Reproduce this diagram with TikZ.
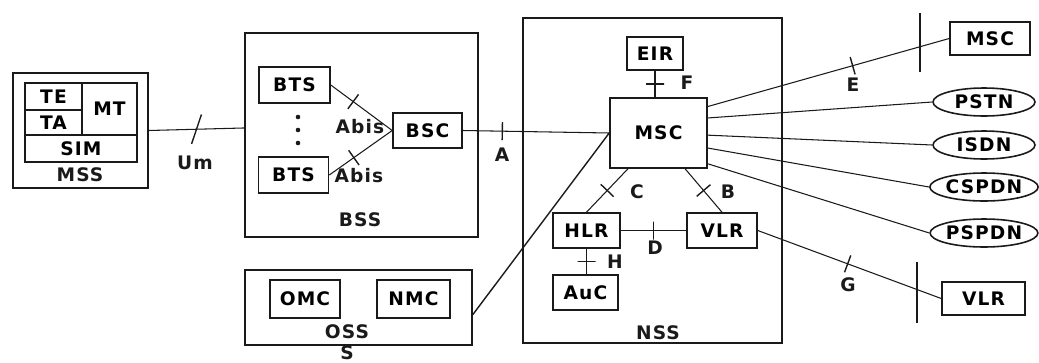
\documentclass[tikz,border=0pt]{standalone}
\usepackage{fontspec}
\setmainfont{DejaVu Sans}[LetterSpace=6]
\usepackage{tikz}
\usetikzlibrary{positioning,shapes.geometric,calc}
\definecolor{ink}{HTML}{1A1A1A}
\newcommand{\gsmfont}{\fontsize{10.6}{12}\selectfont\bfseries}
\tikzset{
  blk/.style={draw=ink,line width=0.9pt,inner sep=0pt,font=\gsmfont},
  grp/.style={draw=ink,line width=1pt,inner sep=0pt},
  net/.style={ellipse,draw=ink,line width=0.9pt,inner sep=0pt,
              minimum width=2.04cm,minimum height=0.56cm,font=\gsmfont},
  lbl/.style={inner sep=1pt,font=\gsmfont,text=ink},
  link/.style={draw=ink,line width=0.6pt},
  tick/.style={draw=ink,sloped,shape=rectangle,inner sep=0pt,
               minimum width=0pt,minimum height=0.36cm,line width=0.8pt},
  bar/.style={draw=ink,line width=1pt}
}

\begin{document}
\begin{tikzpicture}[x=1cm,y=1cm]
    \path[use as bounding box] (0,0) rectangle (20.78,-7.24);
    % mobile station
    \node[grp,minimum width=2.70cm,minimum height=2.30cm] (mss) at (1.61,-2.61) {};
    \node[blk,minimum width=1.14cm,minimum height=0.54cm] (te) at (1.07,-1.93) {TE};
    \node[blk,minimum width=1.14cm,minimum height=0.50cm] (ta) at (1.07,-2.45) {TA};
    \node[blk,minimum width=1.10cm,minimum height=1.04cm] (mt) at (2.19,-2.18) {MT};
    \node[blk,minimum width=2.24cm,minimum height=0.54cm] (sim) at (1.62,-2.97) {SIM};
    \node[lbl] (mssLbl) at (1.60,-3.50) {MSS};
    % base station subsystem
    \node[grp,minimum width=4.66cm,minimum height=4.08cm] (bss) at (7.23,-2.70) {};
    \node[blk,minimum width=1.42cm,minimum height=0.72cm] (btsA) at (5.89,-1.70) {BTS};
    \node[blk,minimum width=1.40cm,minimum height=0.72cm] (btsB) at (5.87,-3.50) {BTS};
    \node[blk,minimum width=1.38cm,minimum height=0.70cm] (bsc) at (8.55,-2.61) {BSC};
    \foreach \yy in {2.34,2.60,2.86}
      \fill[ink] (5.96,-\yy) circle (1.3pt);
    \node[lbl] (abisA) at (7.20,-2.54) {Abis};
    \node[lbl] (abisB) at (7.18,-3.52) {Abis};
    \node[lbl] (bssLbl) at (7.20,-4.40) {BSS};
    % operation subsystem
    \node[grp,minimum width=4.54cm,minimum height=1.50cm] (oss) at (7.17,-6.15) {};
    \node[blk,minimum width=1.40cm,minimum height=0.76cm] (omc) at (6.10,-5.98) {OMC};
    \node[blk,minimum width=1.46cm,minimum height=0.76cm] (nmc) at (8.27,-5.98) {NMC};
    \node[lbl] (ossLbl) at (6.94,-6.64) {OSS};
    \node[lbl] (ossS) at (6.94,-7.06) {S};
    % network subsystem
    \node[grp,minimum width=5.18cm,minimum height=6.50cm] (nss) at (13.05,-3.61) {};
    \node[blk,minimum width=1.12cm,minimum height=0.66cm] (eir) at (13.10,-1.07) {EIR};
    \node[blk,minimum width=1.94cm,minimum height=1.40cm] (msc) at (13.17,-2.66) {MSC};
    \node[blk,minimum width=1.34cm,minimum height=0.70cm] (hlr) at (11.73,-4.61) {HLR};
    \node[blk,minimum width=1.40cm,minimum height=0.70cm] (vlr) at (14.44,-4.61) {VLR};
    \node[blk,minimum width=1.30cm,minimum height=0.70cm] (auc) at (11.71,-5.85) {AuC};
    \node[lbl] (nssLbl) at (13.16,-6.66) {NSS};
    % remote side
    \node[blk,minimum width=1.60cm,minimum height=0.66cm] (mscR) at (19.80,-0.77) {MSC};
    \node[blk,minimum width=1.66cm,minimum height=0.66cm] (vlrR) at (19.67,-5.97) {VLR};
    \coordinate (eTop) at (18.40,-0.26);
    \coordinate (eBot) at (18.40,-1.44);
    \coordinate (gTop) at (18.34,-5.24);
    \coordinate (gBot) at (18.34,-6.46);
    \draw[bar] (eTop) -- (eBot);
    \draw[bar] (gTop) -- (gBot);

    % interfaces
    \draw[link] (mss.east) -- node[tick,rotate=-20,minimum height=0.62cm] {} ([yshift=4pt]bss.west);
    \node[lbl] (umLbl) at (3.90,-3.26) {Um};
    \draw[link] (btsA.east) -- node[tick,pos=0.365] {} (bsc.west);
    \draw[link] (btsB.east) -- node[tick,pos=0.39] {} (bsc.west);
    \draw[link] (bsc.east) -- node[tick,pos=0.27] {} (msc.west);
    \node[lbl] (aLbl) at (10.04,-3.10) {A};
    \draw[link,line width=0.8pt] ([yshift=-4pt]oss.east) -- (msc.west);
    \draw[link] (eir.south) -- node[tick] {} (eir.south |- msc.north);
    \node[lbl] (fLbl) at (13.74,-1.66) {F};
    \draw[link] ($(msc.south west)!0.19!(msc.south east)$) -- node[tick] {} (hlr.north);
    \node[lbl] (cLbl) at (12.74,-3.84) {C};
    \draw[link] ($(msc.south west)!0.77!(msc.south east)$) -- node[tick] {} (vlr.north);
    \node[lbl] (bLbl) at (14.56,-3.84) {B};
    \draw[link] (hlr.east) -- node[tick] {} (vlr.west);
    \node[lbl] (dLbl) at (13.10,-4.96) {D};
    \draw[link] (hlr.south) -- node[tick] {} (auc.north -| hlr.south);
    \node[lbl] (hLbl) at (12.30,-5.24) {H};
    \draw[link] ($(msc.north east)!0.13!(msc.south east)$) -- node[tick,pos=0.60] {} (mscR.west);
    \node[lbl] (eLbl) at (17.06,-1.70) {E};
    \draw[link] (vlr.east) -- node[tick,pos=0.49] {} (vlrR.west);
    \node[lbl] (gLbl) at (16.96,-5.70) {G};
    \foreach \nm/\txt/\yy/\fr in {pstn/PSTN/2.04/0.29,isdn/ISDN/2.90/0.53,
                                  cspdn/CSPDN/3.74/0.71,pspdn/PSPDN/4.66/0.93} {
      \node[net] (\nm) at (19.68,-\yy) {\txt};
      \draw[link] ($(msc.north east)!\fr!(msc.south east)$) -- (\nm.west);
    }
  \end{tikzpicture}
\end{document}
